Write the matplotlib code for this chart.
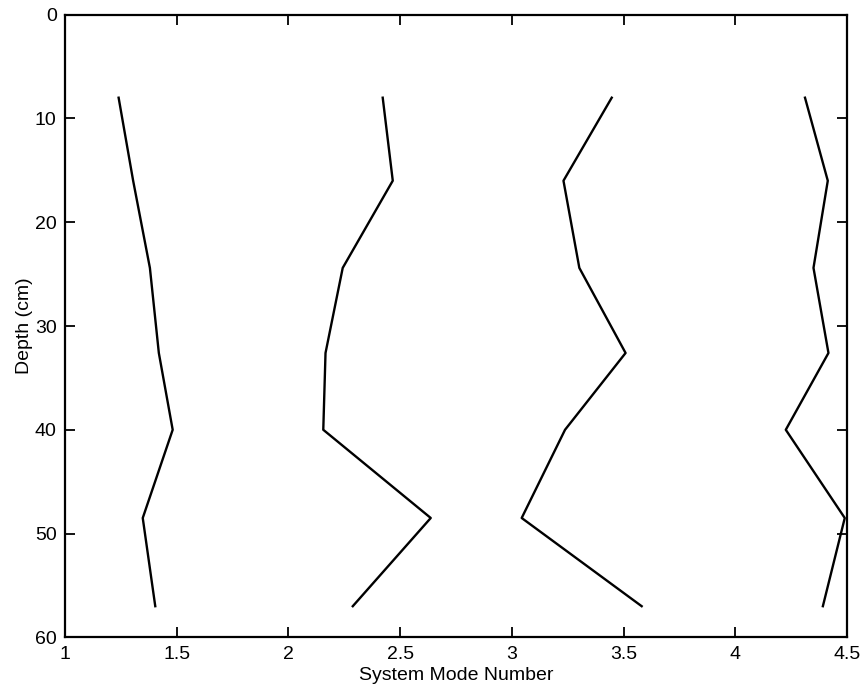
import matplotlib.pyplot as plt

plt.rcParams['font.family'] = ['Liberation Sans', 'DejaVu Sans']

# depth of each measurement (cm)
depth = [8, 16, 24.4, 32.6, 40, 48.5, 57]

# system mode number at each depth, one list per mode
mode1 = [1.24, 1.305, 1.38, 1.42, 1.482, 1.348, 1.404]
mode2 = [2.422, 2.467, 2.243, 2.166, 2.156, 2.637, 2.288]
mode3 = [3.447, 3.231, 3.302, 3.509, 3.238, 3.044, 3.581]
mode4 = [4.312, 4.414, 4.35, 4.417, 4.226, 4.49, 4.392]

fig = plt.figure(figsize=(8.62, 6.92), dpi=100)
ax = fig.add_axes([0.0754, 0.079, 0.9072, 0.8998])

for m in [mode1, mode2, mode3, mode4]:
    ax.plot(m, depth, color='black', linewidth=1.7)

ax.set_xlim(1, 4.5)
ax.set_ylim(60, 0)
ax.set_xticks([1, 1.5, 2, 2.5, 3, 3.5, 4, 4.5])
ax.set_xticklabels(['1', '1.5', '2', '2.5', '3', '3.5', '4', '4.5'])
ax.set_yticks([0, 10, 20, 30, 40, 50, 60])

ax.tick_params(direction='in', top=True, right=True, length=7, width=1.3,
               labelsize=14, pad=6)
for s in ax.spines.values():
    s.set_linewidth(1.6)

ax.set_xlabel('System Mode Number', fontsize=14, labelpad=3)
ax.set_ylabel('Depth (cm)', fontsize=14, labelpad=1)

fig.savefig('out.png', dpi=100)
